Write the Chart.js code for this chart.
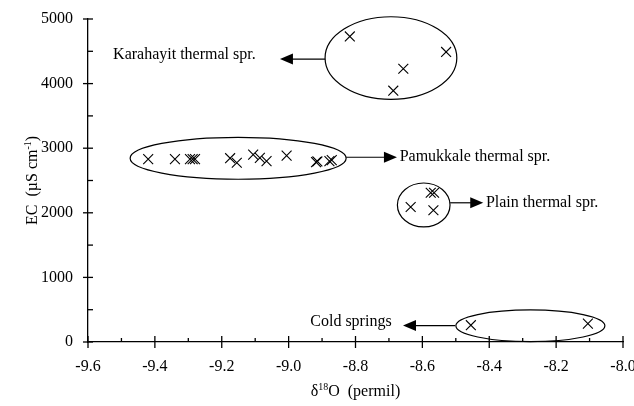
<!DOCTYPE html>
<html>
<head>
<meta charset="utf-8">
<script src="https://cdn.jsdelivr.net/npm/chart.js@4.4.0/dist/chart.umd.min.js"></script>
<style>
  html, body { margin: 0; padding: 0; background: #fff; }
  #wrap { width: 634px; height: 406px; }
</style>
</head>
<body>
<div id="wrap"><canvas id="chart"></canvas></div>
<script>
// Datos (δ18O en permil, EC en µS/cm)
const pamukkaleX = [-9.42, -9.34, -9.295, -9.287, -9.28, -9.175, -9.155, -9.106, -9.086, -9.066, -9.006, -8.918, -8.914, -8.878, -8.871];
const pamukkaleY = [2830, 2830, 2830, 2830, 2830, 2845, 2775, 2900, 2850, 2800, 2885, 2785, 2795, 2800, 2815];
const karahayitX = [-8.817, -8.529, -8.657, -8.687];
const karahayitY = [4730, 4490, 4230, 3890];
const plainX = [-8.635, -8.575, -8.565, -8.567];
const plainY = [2090, 2310, 2310, 2040];
const coldX = [-8.455, -8.105];
const coldY = [260, 285];

// Grupos anotados: elipse (centro y radios en unidades de datos), flecha y texto
const groups = [
  { label: 'Karahayit thermal spr.', cx: -8.694, cy: 4396, rx: 0.197, ry: 639,
    from: [-8.891, 4380], to: [-9.026, 4380], text: [-9.525, 4440], align: 'left' },
  { label: 'Pamukkale thermal spr.', cx: -9.151, cy: 2844, rx: 0.323, ry: 325,
    from: [-8.828, 2860], to: [-8.676, 2860], text: [-8.668, 2860], align: 'left' },
  { label: 'Plain thermal spr.', cx: -8.596, cy: 2121, rx: 0.0787, ry: 340,
    from: [-8.517, 2155], to: [-8.418, 2155], text: [-8.41, 2155], align: 'left' },
  { label: 'Cold springs', cx: -8.277, cy: 251, rx: 0.2228, ry: 245,
    from: [-8.502, 255], to: [-8.658, 255], text: [-8.692, 310], align: 'right' }
];

const xMajor = ['-9.6', '-9.4', '-9.2', '-9.0', '-8.8', '-8.6', '-8.4', '-8.2', '-8.0'];
const yMajor = [0, 1000, 2000, 3000, 4000, 5000];

const FONT = '"Liberation Serif", "Times New Roman", serif';

function toPoints(xs, ys) {
  return xs.map((x, i) => ({ x: x, y: ys[i] }));
}

function drawRich(ctx, parts, x, y, size) {
  // texto con superíndices, centrado en x
  let w = 0;
  parts.forEach(p => {
    ctx.font = (p.sup ? size * 0.62 : size) + 'px ' + FONT;
    w += ctx.measureText(p.t).width;
  });
  let cx = x - w / 2;
  parts.forEach(p => {
    ctx.font = (p.sup ? size * 0.62 : size) + 'px ' + FONT;
    ctx.fillText(p.t, cx, p.sup ? y - size * 0.38 : y);
    cx += ctx.measureText(p.t).width;
  });
}

const annotations = {
  id: 'annotations',
  afterDraw(chart) {
    const ctx = chart.ctx;
    const xs = chart.scales.x;
    const ys = chart.scales.y;
    const px = v => xs.getPixelForValue(v);
    const py = v => ys.getPixelForValue(v);
    ctx.save();
    ctx.strokeStyle = '#000';
    ctx.fillStyle = '#000';

    // marcas de los ejes (principales cruzan el eje, secundarias hacia dentro)
    ctx.lineWidth = 1.3;
    const yAxis = ys.bottom;
    for (let i = 0; i <= 16; i++) {
      const x = px(-9.6 + i * 0.1);
      ctx.beginPath();
      if (i % 2 === 0) { ctx.moveTo(x, yAxis - 6); ctx.lineTo(x, yAxis + 6); }
      else { ctx.moveTo(x, yAxis - 4); ctx.lineTo(x, yAxis); }
      ctx.stroke();
    }
    const xAxis = xs.left;
    for (let i = 0; i <= 10; i++) {
      const y = py(i * 500);
      ctx.beginPath();
      if (i % 2 === 0) { ctx.moveTo(xAxis - 5, y); ctx.lineTo(xAxis + 5, y); }
      else { ctx.moveTo(xAxis, y); ctx.lineTo(xAxis + 5, y); }
      ctx.stroke();
    }

    // elipses, flechas y etiquetas
    groups.forEach(g => {
      ctx.lineWidth = 1.2;
      ctx.beginPath();
      ctx.ellipse(px(g.cx), py(g.cy), Math.abs(px(g.cx + g.rx) - px(g.cx)),
        Math.abs(py(g.cy + g.ry) - py(g.cy)), 0, 0, Math.PI * 2);
      ctx.stroke();

      const x1 = px(g.from[0]), y1 = py(g.from[1]);
      const x2 = px(g.to[0]), y2 = py(g.to[1]);
      const dir = Math.sign(x2 - x1);
      ctx.beginPath();
      ctx.moveTo(x1, y1);
      ctx.lineTo(x2 - dir * 10, y2);
      ctx.stroke();
      ctx.beginPath();
      ctx.moveTo(x2, y2);
      ctx.lineTo(x2 - dir * 13, y2 - 5.5);
      ctx.lineTo(x2 - dir * 13, y2 + 5.5);
      ctx.closePath();
      ctx.fill();

      ctx.font = '16px ' + FONT;
      ctx.textAlign = g.align;
      ctx.textBaseline = 'middle';
      ctx.fillText(g.label, px(g.text[0]), py(g.text[1]));
    });

    // títulos de los ejes
    ctx.textAlign = 'left';
    ctx.textBaseline = 'alphabetic';
    drawRich(ctx, [{ t: 'δ' }, { t: '18', sup: true }, { t: 'O  (permil)' }],
      (xs.left + xs.right) / 2, 396, 16);
    ctx.save();
    ctx.translate(37, (ys.top + ys.bottom) / 2);
    ctx.rotate(-Math.PI / 2);
    drawRich(ctx, [{ t: 'EC  (µS cm' }, { t: '-1', sup: true }, { t: ')' }], 0, 0, 16);
    ctx.restore();

    ctx.restore();
  }
};

const crossStyle = {
  pointStyle: 'crossRot',
  pointRadius: 7,
  pointHoverRadius: 7,
  pointBorderWidth: 1.1,
  borderColor: '#000',
  backgroundColor: '#000',
  showLine: false,
  clip: false
};

new Chart(document.getElementById('chart'), {
  type: 'scatter',
  data: {
    datasets: [
      Object.assign({ label: 'Pamukkale', data: toPoints(pamukkaleX, pamukkaleY) }, crossStyle),
      Object.assign({ label: 'Karahayit', data: toPoints(karahayitX, karahayitY) }, crossStyle),
      Object.assign({ label: 'Plain', data: toPoints(plainX, plainY) }, crossStyle),
      Object.assign({ label: 'Cold', data: toPoints(coldX, coldY) }, crossStyle)
    ]
  },
  options: {
    responsive: true,
    maintainAspectRatio: false,
    animation: false,
    events: [],
    layout: { padding: { top: 19, right: 11, left: 0, bottom: 0 } },
    plugins: { legend: { display: false }, tooltip: { enabled: false } },
    scales: {
      x: {
        type: 'linear',
        min: -9.6,
        max: -8.0,
        grid: { display: false, drawTicks: false },
        border: { color: '#000', width: 1.3 },
        ticks: {
          stepSize: 0.2,
          padding: 15,
          color: '#000',
          font: { family: FONT, size: 16 },
          maxRotation: 0,
          callback: (v, i) => xMajor[i]
        },
        afterFit(scale) {
          scale.height = 64;
          scale.paddingLeft = 0;
          scale.paddingRight = 0;
        }
      },
      y: {
        type: 'linear',
        min: 0,
        max: 5000,
        grid: { display: false, drawTicks: false },
        border: { color: '#000', width: 1.3 },
        ticks: {
          stepSize: 1000,
          padding: 15,
          color: '#000',
          font: { family: FONT, size: 16 },
          callback: (v, i) => String(yMajor[i])
        },
        afterFit(scale) {
          scale.width = 88;
          scale.paddingTop = 0;
          scale.paddingBottom = 0;
        }
      }
    }
  },
  plugins: [annotations]
});
</script>
</body>
</html>
